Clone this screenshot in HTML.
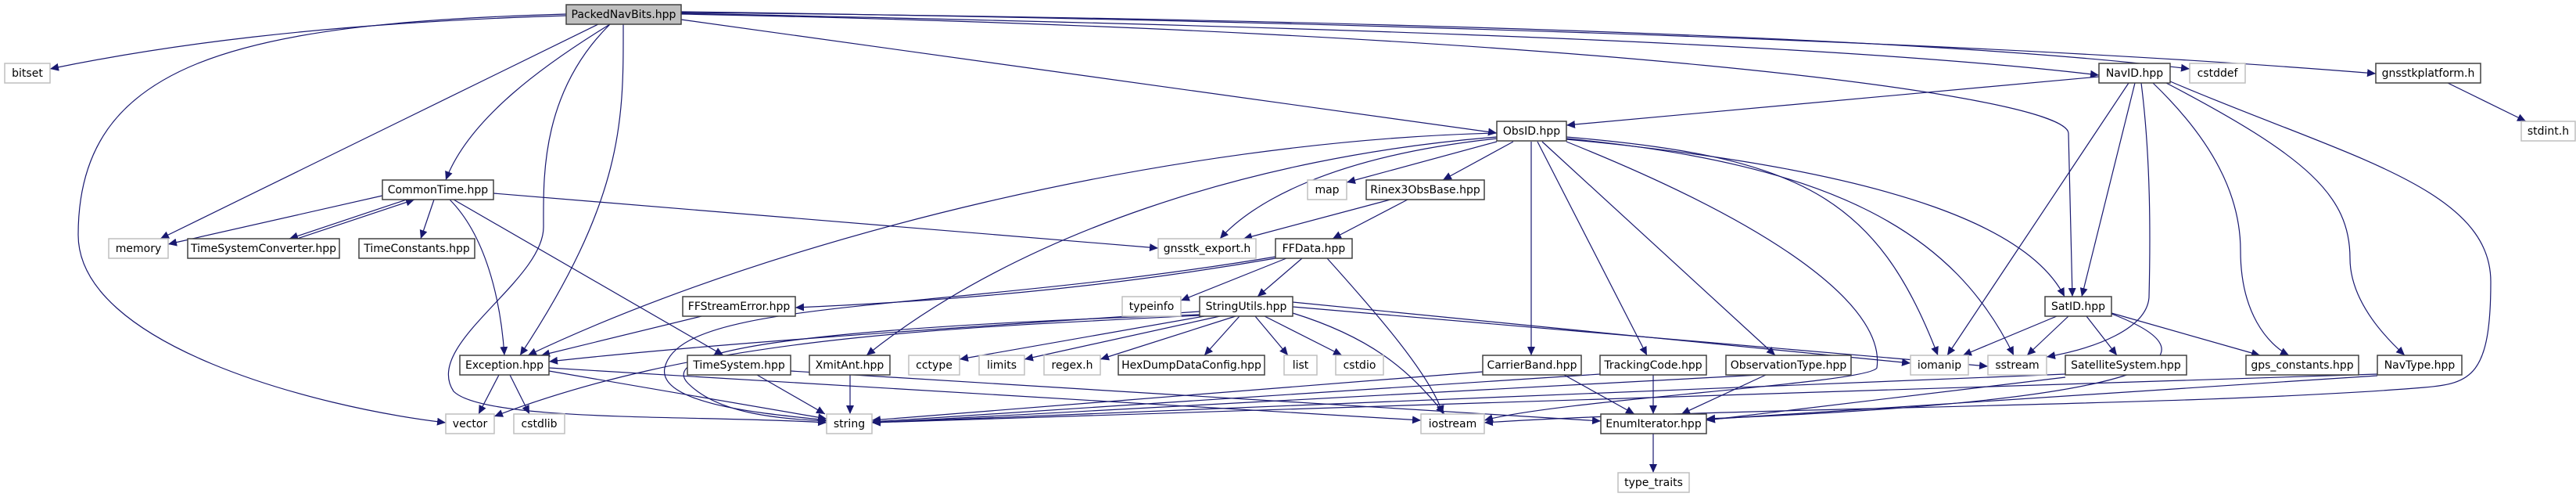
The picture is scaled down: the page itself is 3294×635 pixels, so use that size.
<!DOCTYPE html>
<html><head><meta charset="utf-8"><style>
html,body{margin:0;padding:0;background:#fff;width:3294px;height:635px;overflow:hidden}
svg{display:block}
text{font-family:"DejaVu Sans","Liberation Sans",sans-serif;font-size:14px;fill:#000;text-anchor:middle;dominant-baseline:central}
.n{fill:#fff;stroke:#404040;stroke-width:1.5}
.x{fill:#fff;stroke:#bfbfbf;stroke-width:1.5}
.e{fill:none;stroke:#191970;stroke-width:1.2;marker-end:url(#a)}
</style></head><body>
<svg width="3294" height="635" viewBox="0 0 3294 635" xmlns="http://www.w3.org/2000/svg">
<defs><marker id="a" markerWidth="12" markerHeight="10" refX="11" refY="5" orient="auto" markerUnits="userSpaceOnUse"><path d="M0,0 L11,5 L0,10 z" fill="#191970"/></marker></defs>
<g>
<path class="e" d="M724,20 C400,30 200,60 64,88"/>
<path class="e" d="M724,18 C300,30 100,80 100,300 C100,440 400,520 570,540"/>
<path class="e" d="M765,31 L205,305"/>
<path class="e" d="M780,31 C700,80 600,150 570,230"/>
<path class="e" d="M797,31 C797,150 800,250 665,454"/>
<path class="e" d="M780,31 C690,120 695,230 695,290 C695,360 540,440 580,500 C620,540 900,530 1057,540"/>
<path class="e" d="M871,25 L1914,170"/>
<path class="e" d="M871,17 C1500,30 2300,50 2684,96"/>
<path class="e" d="M871,16 C1500,22 2400,40 2800,88"/>
<path class="e" d="M871,15 C1600,25 2500,50 3038,94"/>
<path class="e" d="M871,18 C2000,40 2640,120 2645,170 L2650,379"/>
<path class="e" d="M489,250 L215,312"/>
<path class="e" d="M520,255 L370,305"/>
<path class="e" d="M380,305 L530,255"/>
<path class="e" d="M555,255 L538,305"/>
<path class="e" d="M575,255 C620,300 640,380 645,454"/>
<path class="e" d="M580,255 L925,454"/>
<path class="e" d="M631,247 L1481,317"/>
<path class="e" d="M638,479 L612,529"/>
<path class="e" d="M652,479 L677,529"/>
<path class="e" d="M702,474 L1057,535"/>
<path class="e" d="M702,470 L1817,537"/>
<path class="e" d="M968,479 L1055,529"/>
<path class="e" d="M1011,474 L2047,538"/>
<path class="e" d="M1087,479 L1087,529"/>
<path class="e" d="M897,404 L692,454"/>
<path class="e" d="M1631,328 C1200,400 870,380 850,470 C840,520 1000,530 1057,537"/>
<path class="e" d="M1631,330 C1400,370 1200,385 1017,393"/>
<path class="e" d="M1914,170 C1500,180 1000,300 675,454"/>
<path class="e" d="M1914,175 C1600,200 1300,300 1108,454"/>
<path class="e" d="M1914,177 C1700,200 1600,260 1560,305"/>
<path class="e" d="M1914,181 L1722,233"/>
<path class="e" d="M1935,181 L1845,230"/>
<path class="e" d="M1958,181 L1958,454"/>
<path class="e" d="M1966,181 L2106,454"/>
<path class="e" d="M1972,181 L2270,454"/>
<path class="e" d="M2003,175 C2300,200 2400,250 2478,454"/>
<path class="e" d="M2003,177 C2350,210 2500,300 2575,454"/>
<path class="e" d="M2003,178 C2450,220 2600,300 2640,379"/>
<path class="e" d="M2003,181 C2300,300 2410,400 2400,470 C2390,490 2000,510 1898,537"/>
<path class="e" d="M1778,255 L1590,305"/>
<path class="e" d="M1800,255 L1704,305"/>
<path class="e" d="M1645,330 L1510,384"/>
<path class="e" d="M1665,330 L1608,379"/>
<path class="e" d="M1697,330 C1760,400 1830,480 1845,529"/>
<path class="e" d="M1534,398 C1200,420 900,440 702,462"/>
<path class="e" d="M1540,404 L1227,459"/>
<path class="e" d="M1560,404 L1310,459"/>
<path class="e" d="M1580,404 L1407,459"/>
<path class="e" d="M1585,404 L1540,454"/>
<path class="e" d="M1605,404 L1647,454"/>
<path class="e" d="M1617,404 L1716,454"/>
<path class="e" d="M1653,400 C1750,430 1800,470 1847,529"/>
<path class="e" d="M1653,386 L2443,464"/>
<path class="e" d="M1653,392 L2542,468"/>
<path class="e" d="M1534,402 C1000,420 840,450 880,490 C920,530 1000,535 1057,538"/>
<path class="e" d="M1534,403 C1200,420 900,430 632,532"/>
<path class="e" d="M1896,475 L1115,537"/>
<path class="e" d="M2000,479 L2090,529"/>
<path class="e" d="M2046,478 L1115,539"/>
<path class="e" d="M2114,479 L2114,529"/>
<path class="e" d="M2250,479 L1115,540"/>
<path class="e" d="M2258,479 L2150,529"/>
<path class="e" d="M2630,404 L2510,454"/>
<path class="e" d="M2645,404 L2592,454"/>
<path class="e" d="M2668,404 L2707,454"/>
<path class="e" d="M2700,400 L2890,454"/>
<path class="e" d="M2700,401 C2830,450 2810,510 2182,535"/>
<path class="e" d="M2641,478 L1115,540"/>
<path class="e" d="M2641,482 L2182,537"/>
<path class="e" d="M2684,98 L2003,160"/>
<path class="e" d="M2730,106 L2662,379"/>
<path class="e" d="M2722,106 L2490,454"/>
<path class="e" d="M2738,106 C2750,200 2750,300 2748,380 C2745,420 2680,445 2617,456"/>
<path class="e" d="M2753,106 C2830,180 2865,250 2865,320 C2865,400 2900,440 2927,454"/>
<path class="e" d="M2770,106 C2950,200 3005,250 3005,330 C3005,390 3060,440 3075,454"/>
<path class="e" d="M2775,104 C3000,200 3185,240 3185,360 C3185,480 3160,490 3100,495 C2800,520 2200,520 1898,540"/>
<path class="e" d="M3040,478 L1115,540"/>
<path class="e" d="M3040,480 L2182,536"/>
<path class="e" d="M3130,106 L3230,155"/>
<path class="e" d="M2114,554 L2114,604"/>
</g>
<g>
<rect x="724" y="6" width="147" height="25" fill="#bfbfbf" stroke="#404040" stroke-width="1.5"/><text x="797.5" y="19">PackedNavBits.hpp</text>
<rect class="x" x="6" y="81" width="58" height="25"/><text x="35" y="94">bitset</text>
<rect class="n" x="2684" y="81" width="91" height="25"/><text x="2729.5" y="94">NavID.hpp</text>
<rect class="x" x="2800" y="81" width="71" height="25"/><text x="2835.5" y="94">cstddef</text>
<rect class="n" x="3038" y="81" width="134" height="25"/><text x="3105" y="94">gnsstkplatform.h</text>
<rect class="n" x="1914" y="155" width="89" height="25"/><text x="1958.5" y="168">ObsID.hpp</text>
<rect class="x" x="3224" y="155" width="69" height="25"/><text x="3258.5" y="168">stdint.h</text>
<rect class="n" x="489" y="230" width="142" height="25"/><text x="560" y="243">CommonTime.hpp</text>
<rect class="x" x="1672" y="230" width="50" height="25"/><text x="1697" y="243">map</text>
<rect class="n" x="1747" y="230" width="151" height="25"/><text x="1822.5" y="243">Rinex3ObsBase.hpp</text>
<rect class="x" x="139" y="305" width="76" height="25"/><text x="177" y="318">memory</text>
<rect class="n" x="240" y="305" width="194" height="25"/><text x="337" y="318">TimeSystemConverter.hpp</text>
<rect class="n" x="459" y="305" width="148" height="25"/><text x="533" y="318">TimeConstants.hpp</text>
<rect class="x" x="1481" y="305" width="125" height="25"/><text x="1543.5" y="318">gnsstk_export.h</text>
<rect class="n" x="1631" y="305" width="98" height="25"/><text x="1680" y="318">FFData.hpp</text>
<rect class="n" x="873" y="379" width="144" height="25"/><text x="945" y="392">FFStreamError.hpp</text>
<rect class="x" x="1435" y="379" width="75" height="25"/><text x="1472.5" y="392">typeinfo</text>
<rect class="n" x="1534" y="379" width="119" height="25"/><text x="1593.5" y="392">StringUtils.hpp</text>
<rect class="n" x="2615" y="379" width="85" height="25"/><text x="2657.5" y="392">SatID.hpp</text>
<rect class="n" x="588" y="454" width="114" height="25"/><text x="645" y="467">Exception.hpp</text>
<rect class="n" x="879" y="454" width="132" height="25"/><text x="945" y="467">TimeSystem.hpp</text>
<rect class="n" x="1035" y="454" width="103" height="25"/><text x="1086.5" y="467">XmitAnt.hpp</text>
<rect class="x" x="1162" y="454" width="65" height="25"/><text x="1194.5" y="467">cctype</text>
<rect class="x" x="1252" y="454" width="58" height="25"/><text x="1281" y="467">limits</text>
<rect class="x" x="1335" y="454" width="72" height="25"/><text x="1371" y="467">regex.h</text>
<rect class="n" x="1430" y="454" width="187" height="25"/><text x="1523.5" y="467">HexDumpDataConfig.hpp</text>
<rect class="x" x="1642" y="454" width="42" height="25"/><text x="1663" y="467">list</text>
<rect class="x" x="1708" y="454" width="61" height="25"/><text x="1738.5" y="467">cstdio</text>
<rect class="n" x="1896" y="454" width="126" height="25"/><text x="1959" y="467">CarrierBand.hpp</text>
<rect class="n" x="2046" y="454" width="136" height="25"/><text x="2114" y="467">TrackingCode.hpp</text>
<rect class="n" x="2207" y="454" width="160" height="25"/><text x="2287" y="467">ObservationType.hpp</text>
<rect class="x" x="2443" y="454" width="74" height="25"/><text x="2480" y="467">iomanip</text>
<rect class="x" x="2542" y="454" width="75" height="25"/><text x="2579.5" y="467">sstream</text>
<rect class="n" x="2641" y="454" width="155" height="25"/><text x="2718.5" y="467">SatelliteSystem.hpp</text>
<rect class="n" x="2872" y="454" width="144" height="25"/><text x="2944" y="467">gps_constants.hpp</text>
<rect class="n" x="3040" y="454" width="108" height="25"/><text x="3094" y="467">NavType.hpp</text>
<rect class="x" x="570" y="529" width="62" height="25"/><text x="601" y="542">vector</text>
<rect class="x" x="657" y="529" width="65" height="25"/><text x="689.5" y="542">cstdlib</text>
<rect class="x" x="1057" y="529" width="58" height="25"/><text x="1086" y="542">string</text>
<rect class="x" x="1817" y="529" width="81" height="25"/><text x="1857.5" y="542">iostream</text>
<rect class="n" x="2047" y="529" width="135" height="25"/><text x="2114.5" y="542">EnumIterator.hpp</text>
<rect class="x" x="2069" y="604" width="91" height="25"/><text x="2114.5" y="617">type_traits</text>
</g>
</svg>
</body></html>
